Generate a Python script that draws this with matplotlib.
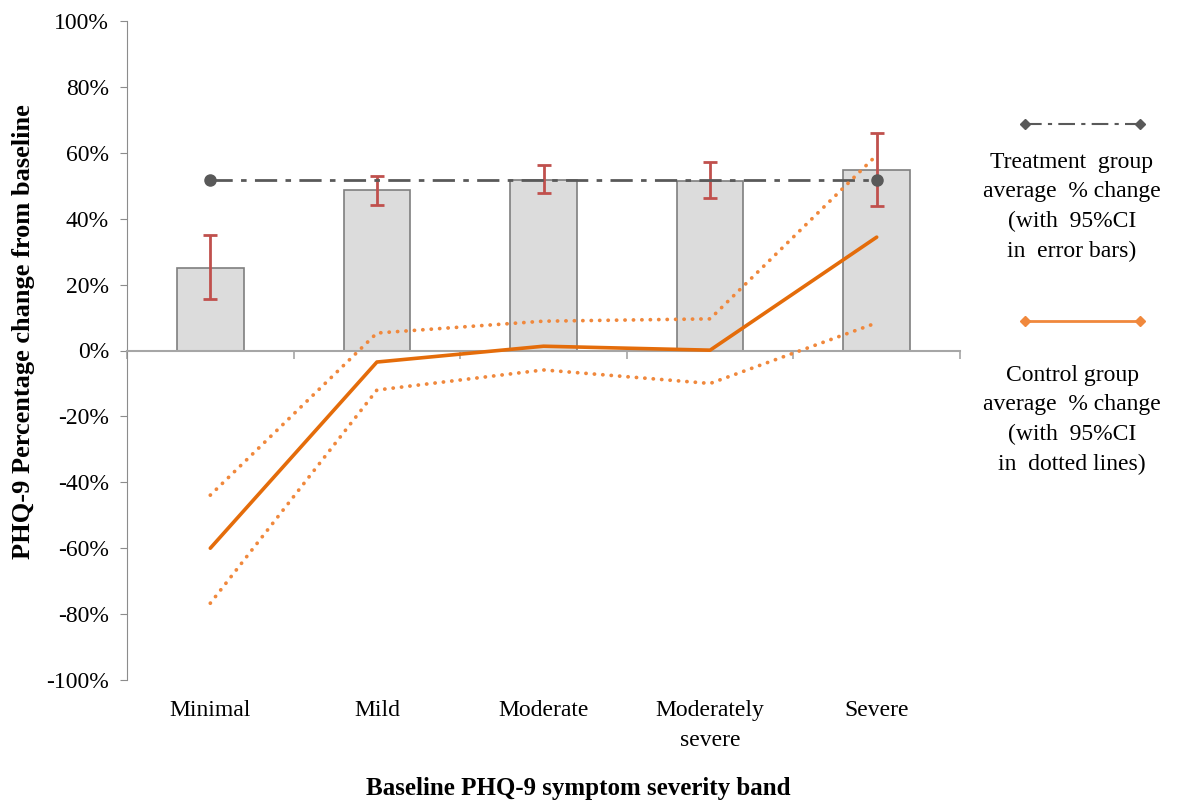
import matplotlib
matplotlib.use("Agg")
import matplotlib.pyplot as plt
from matplotlib.lines import Line2D
from matplotlib.ticker import FuncFormatter
import numpy as np

plt.rcParams['font.family'] = ['Liberation Serif', 'DejaVu Serif']

# data (percent change from baseline)
categories = ["Minimal", "Mild", "Moderate", "Moderately\nsevere", "Severe"]
treat_bar = [25.0, 48.7, 51.7, 51.4, 54.7]
treat_ci_low = [15.6, 44.2, 47.8, 46.4, 43.9]
treat_ci_high = [35.1, 53.0, 56.3, 57.1, 65.9]
treat_avg = 51.6
ctrl_mean = [-60.0, -3.5, 1.3, 0.1, 34.4]
ctrl_ci_low = [-76.7, -12.0, -5.9, -10.0, 8.4]
ctrl_ci_high = [-43.9, 5.3, 8.9, 9.6, 59.3]

orange = '#e46c0a'
orange_light = '#f0883c'
red = '#c0504d'
dgray = '#595959'
fs = 17

fig = plt.figure(figsize=(11.84, 8), dpi=100)
ax = fig.add_axes([127/1184, 120/800, 833/1184, 659/800])

x = np.arange(len(categories))
low_err = np.array(treat_bar) - np.array(treat_ci_low)
high_err = np.array(treat_ci_high) - np.array(treat_bar)

ax.bar(x, treat_bar, width=0.4, color='#dcdcdc', edgecolor='#7f7f7f', linewidth=1.2, zorder=2)
ax.errorbar(x, treat_bar, yerr=[low_err, high_err], fmt='none', ecolor=red,
            elinewidth=2, capsize=5, capthick=2, zorder=4)

ax.plot([x[0], x[-1]], [treat_avg, treat_avg], color=dgray, linestyle=(0, (8, 3, 2, 3)),
        linewidth=2, marker='o', markersize=8, zorder=5)

ax.plot(x, ctrl_mean, color=orange, linewidth=2.6, solid_capstyle='round', zorder=6)
for ci in (ctrl_ci_high, ctrl_ci_low):
    ax.plot(x, ci, color=orange_light, linewidth=2.7, linestyle=(0, (0.05, 2.2)),
            dash_capstyle='round', zorder=6)

ax.set_xlim(-0.5, len(categories) - 0.5)
ax.set_ylim(-100, 100)
ax.set_yticks(np.arange(-100, 101, 20))
ax.yaxis.set_major_formatter(FuncFormatter(lambda v, p: f"{v:.0f}%"))
ax.tick_params(axis='y', labelsize=fs, length=5, color='#8c8c8c', direction='out', pad=8)

ax.spines['top'].set_visible(False)
ax.spines['right'].set_visible(False)
ax.spines['left'].set_color('#8c8c8c')
ax.spines['bottom'].set_color('#a6a6a6')
ax.spines['bottom'].set_linewidth(1.5)
ax.spines['bottom'].set_position(('data', 0))
ax.set_xticks(np.arange(-0.5, len(categories), 1.0))
ax.set_xticklabels([])
ax.tick_params(axis='x', length=6, color='#a6a6a6', width=1.2, direction='out')

for i, c in enumerate(categories):
    ax.text(x[i], -106, c, ha='center', va='top', fontsize=fs, linespacing=1.55)

fig.text(24/1184, 1 - 332/800, "PHQ-9 Percentage change from baseline", rotation=90,
         ha='center', va='center', fontsize=19, fontweight='bold')
fig.text(578/1184, 12/800, "Baseline PHQ-9 symptom severity band", ha='center', va='center',
         fontsize=18, fontweight='bold')

# legend drawn beside the chart
fig.add_artist(Line2D([1025/1184, 1140/1184], [1 - 124/800, 1 - 124/800], color=dgray,
                      linestyle=(0, (8, 3, 2, 3)), linewidth=1.5, marker='D', markersize=5))
fig.text(1072/1184, 1 - 207/800, "Treatment  group\naverage  % change\n(with  95%CI\nin  error bars)",
         ha='center', va='center', fontsize=fs, linespacing=1.55)
fig.add_artist(Line2D([1025/1184, 1140/1184], [1 - 321/800, 1 - 321/800], color=orange_light,
                      linewidth=2, marker='D', markersize=5))
fig.text(1072/1184, 1 - 420/800, "Control group\naverage  % change\n(with  95%CI\nin  dotted lines)",
         ha='center', va='center', fontsize=fs, linespacing=1.55)

fig.savefig("out.png", dpi=100)
